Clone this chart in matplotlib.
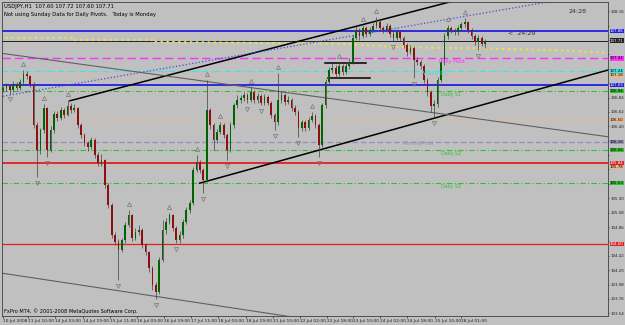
import numpy as np
import matplotlib
matplotlib.use('Agg')
import matplotlib.pyplot as plt
import matplotlib.transforms as mtransforms

# hourly USDJPY (sampled every 2nd bar)
closes = [106.98, 107.01, 106.95, 107.05, 106.98, 107.08, 107.20, 107.17, 107.05, 106.42,
          106.04, 106.34, 106.68, 106.04, 106.34, 106.59, 106.53, 106.65, 106.57, 106.71,
          106.65, 106.68, 106.42, 106.27, 106.14, 106.08, 106.19, 105.96, 105.84, 105.88,
          105.50, 105.20, 104.74, 104.63, 104.51, 104.66, 104.89, 105.04, 104.69, 104.78,
          104.81, 104.58, 104.48, 104.23, 103.97, 103.86, 104.36, 104.81, 104.94, 105.04,
          104.84, 104.66, 104.74, 104.94, 105.12, 105.23, 105.73, 105.85, 105.73, 105.58,
          106.65, 106.42, 106.19, 106.31, 106.42, 106.27, 106.04, 106.42, 106.72, 106.80,
          106.83, 106.88, 106.80, 106.92, 106.80, 106.86, 106.76, 106.85, 106.76, 106.57,
          106.46, 106.80, 106.88, 106.77, 106.80, 106.68, 106.62, 106.37, 106.46, 106.37,
          106.50, 106.56, 106.42, 106.11, 106.72, 107.08, 107.26, 107.29, 107.20, 107.32,
          107.23, 107.32, 107.38, 107.75, 107.87, 107.78, 107.90, 107.81, 107.87, 107.93,
          107.99, 107.90, 107.87, 107.93, 107.81, 107.75, 107.84, 107.75, 107.64, 107.53,
          107.60, 107.41, 107.38, 107.32, 107.11, 106.92, 106.71, 106.74, 107.11, 107.38,
          107.78, 107.90, 107.87, 107.84, 107.90, 107.96, 107.99, 107.87, 107.78, 107.69,
          107.75, 107.66, 107.71]
highs = [107.02, 107.06, 107.04, 107.09, 107.08, 107.12, 107.26, 107.24, 107.19, 107.07,
         106.46, 106.38, 106.74, 106.70, 106.40, 106.64, 106.63, 106.70, 106.68, 106.80,
         106.76, 106.74, 106.70, 106.45, 106.30, 106.18, 106.24, 106.22, 106.00, 105.98,
         105.90, 105.54, 105.22, 104.78, 104.68, 104.70, 104.94, 105.12, 105.06, 104.84,
         104.89, 104.84, 104.62, 104.50, 104.26, 104.02, 104.40, 104.97, 105.00, 105.08,
         105.06, 104.88, 104.80, 104.98, 105.16, 105.28, 105.78, 105.96, 105.88, 105.76,
         107.11, 106.68, 106.45, 106.36, 106.47, 106.45, 106.30, 106.46, 106.76, 106.88,
         106.88, 106.93, 106.91, 107.00, 106.95, 106.91, 106.89, 106.90, 106.88, 106.79,
         106.60, 107.21, 106.94, 106.91, 106.86, 106.83, 106.72, 106.65, 106.50, 106.49,
         106.54, 106.62, 106.59, 106.45, 106.76, 107.12, 107.31, 107.36, 107.33, 107.38,
         107.35, 107.38, 107.44, 107.80, 107.93, 107.90, 107.95, 107.93, 107.92, 107.98,
         108.07, 108.02, 107.94, 107.98, 107.96, 107.85, 107.88, 107.87, 107.78, 107.67,
         107.65, 107.63, 107.46, 107.42, 107.35, 107.14, 106.95, 106.80, 107.15, 107.42,
         107.82, 107.95, 107.93, 107.90, 107.95, 108.00, 108.05, 108.01, 107.90, 107.81,
         107.79, 107.78, 107.73]
lows = [106.92, 106.94, 106.90, 106.93, 106.95, 106.96, 107.05, 107.12, 107.00, 106.38,
        105.62, 105.98, 106.30, 105.93, 106.00, 106.30, 106.48, 106.50, 106.52, 106.55,
        106.60, 106.62, 106.38, 106.22, 106.10, 106.02, 106.05, 105.92, 105.80, 105.80,
        105.45, 105.15, 104.70, 104.58, 104.05, 104.48, 104.62, 104.86, 104.64, 104.66,
        104.74, 104.54, 104.44, 104.18, 103.90, 103.76, 103.84, 104.32, 104.76, 104.90,
        104.80, 104.61, 104.62, 104.70, 104.90, 105.08, 105.20, 105.70, 105.68, 105.38,
        105.55, 106.36, 106.04, 106.15, 106.28, 106.22, 105.88, 106.00, 106.38, 106.68,
        106.76, 106.79, 106.75, 106.77, 106.76, 106.76, 106.72, 106.72, 106.72, 106.52,
        106.34, 106.42, 106.76, 106.72, 106.74, 106.64, 106.57, 106.24, 106.33, 106.33,
        106.34, 106.46, 106.38, 105.93, 106.08, 106.68, 107.04, 107.22, 107.15, 107.17,
        107.18, 107.20, 107.28, 107.35, 107.72, 107.72, 107.75, 107.76, 107.78, 107.84,
        107.90, 107.86, 107.82, 107.84, 107.77, 107.70, 107.72, 107.70, 107.60, 107.48,
        107.50, 107.14, 107.33, 107.27, 107.06, 106.87, 106.62, 106.54, 106.70, 107.07,
        107.34, 107.74, 107.82, 107.79, 107.80, 107.86, 107.92, 107.83, 107.73, 107.64,
        107.57, 107.62, 107.60]
first_open = 106.95

# horizontal levels (pivots, S/R)
level_prices = [107.86, 107.71, 107.44, 107.24, 107.18, 107.03, 106.94, 106.50,
                106.16, 106.04, 105.84, 105.78, 105.53, 104.60]
level_colors = ['#2020e0', '#202020', '#ff30ff', '#30e8e8', '#e8b890', '#2020e0', '#30c030',
                '#e8b890', '#9494b4', '#30c030', '#e02020', '#e8b890', '#30c030', '#e02020']
level_styles = ['-', '-', (0, (6, 3)), (0, (5, 2, 1, 2)), ':', '-', (0, (5, 2, 1, 2)), ':',
                (0, (4, 2)), (0, (5, 2, 1, 2)), '-', ':', (0, (5, 2, 1, 2)), '-']
level_widths = [1.3, 0.7, 1.0, 0.8, 1.0, 1.3, 0.8, 1.0, 1.0, 0.8, 1.3, 1.0, 0.8, 0.9]
label_text_colors = ['white', 'white', 'black', 'black', 'black', 'white', 'black',
                     'black', 'black', 'black', 'white', 'black', 'black', 'white']

# yellow stepped daily line
yellow_x = [-1, 21, 21, 44, 44, 100, 117, 140, 165, 179]
yellow_y = [107.75, 107.75, 107.72, 107.72, 107.69, 107.66, 107.61, 107.59, 107.56, 107.52]

# trendlines: (x0, y0, x1, y1)
trend_black = [(19.7, 106.79, 178.2, 108.93), (57.9, 105.53, 178.2, 107.26),
               (94.7, 107.37, 107.0, 107.37), (95.6, 107.14, 108.0, 107.14)]
trend_gray = [(-1.0, 107.52, 178.2, 106.24), (-1.0, 104.16, 85.9, 103.48)]
trend_blue = [(-1.0, 106.85, 178.2, 108.46)]

pivot_labels = ['Daily Pivot', 'Weekly R1', 'R1', 'Daily S1', 'S1', 'MonthlyPivot',
                'Daily S2', 'S2', 'Daily S3']
pivot_label_x = [128.5, 123.2, 133.0, 129.0, 133.0, 117.6, 129.0, 133.0, 129.0]
pivot_label_y = [107.39, 107.20, 107.14, 106.89, 106.46, 106.13, 105.99, 105.74, 105.48]
pivot_label_colors = ['#ff30ff', '#30e8e8', '#e8b890', '#30c030', '#e8b890', '#9494b4',
                      '#30c030', '#e8b890', '#30c030']

price_ticks = [103.54, 103.76, 103.98, 104.20, 104.42, 104.64, 104.86, 105.08, 105.30,
               105.52, 105.74, 105.96, 106.18, 106.40, 106.62, 106.84, 107.06, 107.28,
               107.50, 107.72, 107.94, 108.16]
date_pos = [0, 7.4, 15.3, 23.5, 31.5, 39.4, 47.4, 55.3, 63.2, 71.5, 79.4, 87.4, 95.3,
            103.0, 110.9, 119.1, 127.1, 135.0]
date_labels = ['10 Jul 2008', '11 Jul 10:00', '14 Jul 03:00', '14 Jul 19:00', '15 Jul 11:00',
               '16 Jul 03:00', '16 Jul 19:00', '17 Jul 11:00', '18 Jul 03:00', '18 Jul 19:00',
               '21 Jul 10:00', '22 Jul 02:00', '22 Jul 18:00', '23 Jul 10:00', '24 Jul 02:00',
               '24 Jul 18:00', '25 Jul 10:00', '28 Jul 01:00']

bg = '#c0c0c0'
fig = plt.figure(figsize=(6.25, 3.25), dpi=100, facecolor=bg)
ax = fig.add_axes([2 / 625, 9 / 325, 606 / 625, 314 / 325], facecolor=bg)

n = len(closes)
x = np.arange(n)
opens = np.array([first_open] + closes[:-1])
c = np.array(closes)

# levels
for p, col, ls, lw in zip(level_prices, level_colors, level_styles, level_widths):
    ax.axhline(p, color=col, ls=ls, lw=lw, zorder=1)
ax.plot(yellow_x, yellow_y, color='#e8e050', ls=':', lw=1.6, zorder=1)

for x0, y0, x1, y1 in trend_black:
    ax.plot([x0, x1], [y0, y1], color='black', lw=1.1, zorder=2)
for x0, y0, x1, y1 in trend_gray:
    ax.plot([x0, x1], [y0, y1], color='#606060', lw=0.8, zorder=2)
for x0, y0, x1, y1 in trend_blue:
    ax.plot([x0, x1], [y0, y1], color='#4848e0', ls=':', lw=0.9, zorder=2)

# candles
ax.vlines(x, lows, highs, color='#404040', lw=0.5, zorder=3)
up = c >= opens
ax.bar(x[up], (c - opens)[up], bottom=opens[up], width=0.5, color='#006400', zorder=4)
ax.bar(x[~up], (c - opens)[~up], bottom=opens[~up], width=0.5, color='#8c1010', zorder=4)

# fractals
h = np.array(highs)
l = np.array(lows)
for i in range(2, n - 2):
    if h[i] == h[i - 2:i + 3].max():
        ax.plot(i, h[i] + 0.09, marker='^', ms=3, mfc='none', mec='#787878', mew=0.5, zorder=5)
    if l[i] == l[i - 2:i + 3].min():
        ax.plot(i, l[i] - 0.09, marker='v', ms=3, mfc='none', mec='#787878', mew=0.5, zorder=5)

for t, px, py, col in zip(pivot_labels, pivot_label_x, pivot_label_y, pivot_label_colors):
    ax.text(px, py, t, color=col, fontsize=3.5, va='center', zorder=6)

ax.text(0.004, 0.995, 'USDJPY,H1  107.60 107.72 107.60 107.71', transform=ax.transAxes,
        fontsize=3.8, va='top', color='black')
ax.text(0.004, 0.968, 'Not using Sunday Data for Daily Pivots.   Today is Monday',
        transform=ax.transAxes, fontsize=3.8, va='top', color='black')
ax.text(0.935, 0.965, '24:28', transform=ax.transAxes, fontsize=4.5, color='#303030')
ax.text(0.835, 0.895, '<  24:29', transform=ax.transAxes, fontsize=4.5, color='#303030')
ax.text(0.004, 0.005, 'FxPro MT4, \u00a9 2001-2008 MetaQuotes Software Corp.',
        transform=ax.transAxes, fontsize=3.6, va='bottom', color='black')

# price boxes on the right axis
trans = mtransforms.blended_transform_factory(ax.transAxes, ax.transData)
for p, col, tc in zip(level_prices, level_colors, label_text_colors):
    ax.text(1.003, p, f'{p:.2f}', transform=trans, fontsize=2.9, color=tc, va='center',
            ha='left', clip_on=False, zorder=10,
            bbox=dict(boxstyle='square,pad=0.06', fc=col, ec='none'))

ax.set_xlim(-0.3, 178.2)
ax.set_ylim(103.50, 108.30)
ax.yaxis.tick_right()
shown = [v for v in price_ticks if min(abs(v - p) for p in level_prices) > 0.09]
ax.set_yticks(price_ticks)
ax.set_yticklabels([f'{v:.2f}' if v in shown else '' for v in price_ticks])
ax.set_xticks(date_pos)
ax.set_xticklabels(date_labels, ha='left')
ax.tick_params(axis='y', labelsize=2.9, colors='#202020', length=1, width=0.5, pad=0.6)
ax.tick_params(axis='x', labelsize=3.2, colors='#202020', length=1.5, width=0.5, pad=0.5)
for s in ax.spines.values():
    s.set_color('#404040')
    s.set_linewidth(0.6)

fig.savefig('out.png', dpi=100, facecolor=bg)
